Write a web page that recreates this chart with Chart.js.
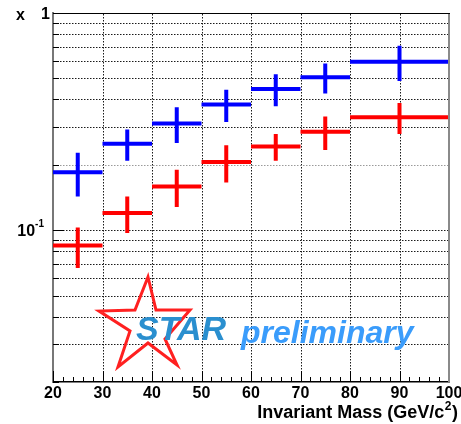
<!DOCTYPE html>
<html>
<head>
<meta charset="utf-8">
<script src="https://cdn.jsdelivr.net/npm/chart.js@4"></script>
<style>
  html, body { margin: 0; padding: 0; background: #fff; }
  canvas { display: block; }
</style>
</head>
<body>
<canvas id="c" width="461" height="424"></canvas>
<script>
// Mass bins (GeV/c^2)
const binLow    = [20, 30, 40, 50, 60, 70, 80];
const binHigh   = [30, 40, 50, 60, 70, 80, 100];
const binCenter = [25, 35, 45, 55, 65, 75, 90];

// Upper (blue) series
const blueValues = [0.185, 0.250, 0.310, 0.379, 0.447, 0.506, 0.596];
const blueErrors = [0.042, 0.041, 0.058, 0.064, 0.075, 0.080, 0.110];

// Lower (red) series
const redValues = [0.085, 0.120, 0.159, 0.206, 0.243, 0.284, 0.331];
const redErrors = [0.018, 0.023, 0.031, 0.040, 0.034, 0.050, 0.054];

// Axis ticks
const xTicks      = [20, 30, 40, 50, 60, 70, 80, 90, 100];
const xMinorTicks = [22, 24, 26, 28, 32, 34, 36, 38, 42, 44, 46, 48, 52, 54, 56, 58,
                     62, 64, 66, 68, 72, 74, 76, 78, 82, 84, 86, 88, 92, 94, 96, 98];
const yTicks      = [0.02, 0.03, 0.04, 0.05, 0.06, 0.07, 0.08, 0.09,
                     0.1, 0.2, 0.3, 0.4, 0.5, 0.6, 0.7, 0.8, 0.9, 1];
const yMajorTicks = [0.1, 1];

const FONT = '"Liberation Sans", Arial, Helvetica, sans-serif';

// Each point becomes a cross: horizontal bar over the bin, vertical bar for the error.
function crossSegments(values, errors) {
  const pts = [];
  for (let i = 0; i < values.length; i++) {
    pts.push({ x: binLow[i], y: values[i] });
    pts.push({ x: binHigh[i], y: values[i] });
    pts.push({ x: binCenter[i], y: null });
    pts.push({ x: binCenter[i], y: values[i] - errors[i] });
    pts.push({ x: binCenter[i], y: values[i] + errors[i] });
    pts.push({ x: binCenter[i], y: null });
  }
  return pts;
}

// Dotted grid drawn from the chart's own scales (dots as small rects)
const dottedGrid = {
  id: 'dottedGrid',
  beforeDatasetsDraw(chart) {
    const { ctx, chartArea: a, scales: { x, y } } = chart;
    ctx.save();
    xTicks.forEach(v => {
      if (v === 20 || v === 100) return;
      const px = Math.round(x.getPixelForValue(v));
      ctx.fillStyle = '#1a1a1a';
      for (let py = Math.round(a.top) + 1; py < a.bottom; py += 3) ctx.fillRect(px, py, 1, 1.5);
    });
    yTicks.forEach(v => {
      if (v === 0.02) return;
      const py = Math.round(y.getPixelForValue(v));
      ctx.fillStyle = v === 0.2 ? '#9a9a9a' : '#1a1a1a';
      for (let px = Math.round(a.left) + 1; px < a.right; px += 3) ctx.fillRect(px, py, 1.5, 1);
    });
    ctx.restore();
  }
};

const decor = {
  id: 'decor',
  afterDraw(chart) {
    const { ctx, chartArea: a, scales: { x, y } } = chart;
    const seg = (x1, y1, x2, y2) => { ctx.beginPath(); ctx.moveTo(x1, y1); ctx.lineTo(x2, y2); ctx.stroke(); };
    ctx.save();

    // inward ticks
    ctx.strokeStyle = '#000';
    ctx.lineWidth = 1;
    xTicks.forEach(v => { const px = Math.round(x.getPixelForValue(v)) + 0.5; seg(px, a.bottom, px, a.bottom - 11); });
    xMinorTicks.forEach(v => { const px = Math.round(x.getPixelForValue(v)) + 0.5; seg(px, a.bottom, px, a.bottom - 5); });
    yTicks.forEach(v => {
      const py = Math.round(y.getPixelForValue(v)) + 0.5;
      seg(a.left, py, a.left + (yMajorTicks.includes(v) ? 11 : 6), py);
    });

    // frame: top and right edges
    ctx.strokeStyle = '#000';
    seg(a.left, Math.round(a.top) + 0.5, a.right + 1, Math.round(a.top) + 0.5);
    ctx.strokeStyle = '#8a8a8a';
    ctx.lineWidth = 2;
    seg(a.right, a.top + 1, a.right, a.bottom);

    // y tick labels
    ctx.fillStyle = '#000';
    ctx.textAlign = 'right';
    ctx.textBaseline = 'middle';
    ctx.font = 'bold 16px ' + FONT;
    ctx.fillText('1', a.left - 3, y.getPixelForValue(1) + 2);
    const p01 = y.getPixelForValue(0.1);
    ctx.font = 'bold 10px ' + FONT;
    const supW = ctx.measureText('-1').width;
    ctx.fillText('-1', a.left - 9, p01 - 6);
    ctx.font = 'bold 16px ' + FONT;
    ctx.fillText('10', a.left - 9 - supW, p01 + 1);

    // y title
    ctx.textAlign = 'center';
    ctx.fillText('x', 20.5, 16);

    // x title with superscript
    ctx.textAlign = 'left';
    ctx.textBaseline = 'alphabetic';
    ctx.font = 'bold 18px ' + FONT;
    const t1 = 'Invariant Mass (GeV/c';
    const w1 = ctx.measureText(t1).width;
    ctx.font = 'bold 12px ' + FONT;
    const w2 = ctx.measureText('2').width;
    ctx.font = 'bold 18px ' + FONT;
    const w3 = ctx.measureText(')').width;
    const xStart = 458 - (w1 + w2 + 1 + w3);
    ctx.fillText(t1, xStart, 418);
    ctx.fillText(')', xStart + w1 + w2 + 1, 418);
    ctx.font = 'bold 12px ' + FONT;
    ctx.fillText('2', xStart + w1 + 0.5, 410);

    // STAR logo
    ctx.strokeStyle = '#ff2020';
    ctx.lineWidth = 3;
    ctx.lineJoin = 'miter';
    const star = [[148, 277], [156, 310], [190, 310], [165, 339], [177, 365],
                  [148, 343], [118, 367], [130, 331], [99, 311], [135, 310]];
    ctx.beginPath();
    star.forEach(([sx, sy], i) => i ? ctx.lineTo(sx, sy) : ctx.moveTo(sx, sy));
    ctx.closePath();
    ctx.stroke();

    ctx.font = 'italic bold 34px ' + FONT;
    ctx.fillStyle = '#2a8fcf';
    ctx.fillText('STAR', 136, 340);
    ctx.font = 'italic bold 32px ' + FONT;
    ctx.fillStyle = '#3a9cfb';
    ctx.fillText('preliminary', 241, 343);

    ctx.restore();
  }
};

new Chart(document.getElementById('c'), {
  type: 'line',
  data: {
    datasets: [
      { data: crossSegments(blueValues, blueErrors), borderColor: '#0000ff' },
      { data: crossSegments(redValues, redErrors), borderColor: '#ff0000' }
    ]
  },
  options: {
    responsive: false,
    animation: false,
    events: [],
    layout: { padding: { top: 13, right: 12, left: 0, bottom: 0 } },
    elements: {
      line: { borderWidth: 4, borderCapStyle: 'butt', tension: 0, fill: false },
      point: { radius: 0, hoverRadius: 0 }
    },
    plugins: { legend: { display: false }, tooltip: { enabled: false } },
    scales: {
      x: {
        type: 'linear',
        min: 20, max: 100,
        afterBuildTicks: s => { s.ticks = xTicks.map(v => ({ value: v })); },
        afterFit: s => { s.height = 42; s.paddingLeft = 0; s.paddingRight = 0; },
        ticks: {
          color: '#000',
          font: { family: FONT, weight: 'bold', size: 16 },
          padding: 2,
          maxRotation: 0,
          autoSkip: false
        },
        grid: { display: false, drawTicks: false },
        border: { display: true, color: '#000', width: 1.5 }
      },
      y: {
        type: 'logarithmic',
        min: 0.02, max: 1,
        afterBuildTicks: s => { s.ticks = yTicks.map(v => ({ value: v, major: yMajorTicks.includes(v) })); },
        afterFit: s => { s.width = 53; },
        ticks: { display: false },
        grid: { display: false, drawTicks: false },
        border: { display: true, color: '#777', width: 2 }
      }
    }
  },
  plugins: [dottedGrid, decor]
});
</script>
</body>
</html>
